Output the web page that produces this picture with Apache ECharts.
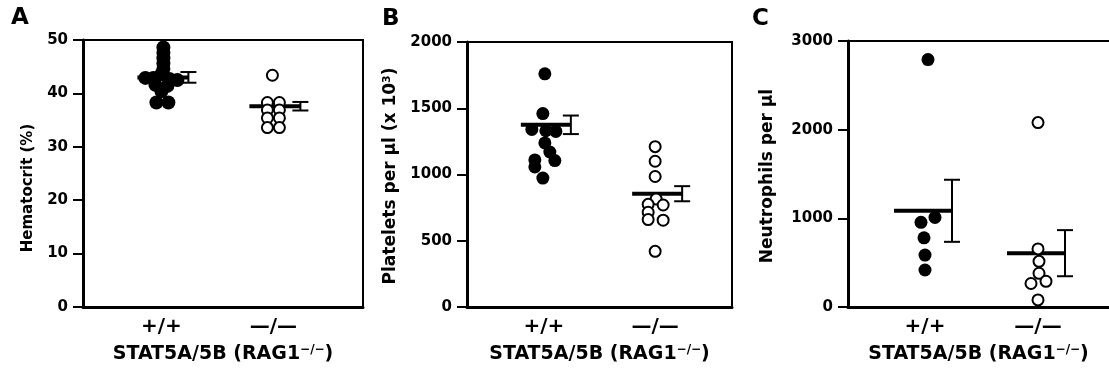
<!DOCTYPE html>
<html>
<head>
<meta charset="utf-8">
<script src="https://cdn.jsdelivr.net/npm/echarts@6/dist/echarts.min.js"></script>
<style>
  html, body { margin: 0; padding: 0; background: #fff; }
  #chart { width: 1109px; height: 374px; }
</style>
</head>
<body>
<div id="chart"></div>
<script>
// Genotype groups on each panel
const groups = ['+/+', '—/—'];

// Panel A: hematocrit (%)
const hematocritWT = [48.6, 47.6, 46.6, 45.6, 44.6, 43.6, 42.9, 42.9, 42.7, 42.5, 41.6, 41.4, 40.4, 38.3, 38.3];
const hematocritKO = [43.4, 38.3, 38.3, 36.9, 36.9, 35.4, 35.4, 33.6, 33.6];
const hematocritMean = [43.0, 37.6];
const hematocritSem = [1.0, 0.8];
const hematocritTicks = [0, 10, 20, 30, 40, 50];

// Panel B: platelets per µl (x 10^3)
const plateletsWT = [1760, 1460, 1340, 1330, 1325, 1238, 1170, 1110, 1105, 1057, 973];
const plateletsKO = [1210, 1100, 985, 815, 775, 770, 715, 660, 655, 420];
const plateletsMean = [1375, 855];
const plateletsSem = [70, 57];
const plateletsTicks = [0, 500, 1000, 1500, 2000];

// Panel C: neutrophils per µl
const neutrophilsWT = [2790, 1010, 955, 780, 586, 417];
const neutrophilsKO = [2080, 655, 515, 380, 290, 265, 80];
const neutrophilsMean = [1085, 607];
const neutrophilsSem = [350, 260];
const neutrophilsTicks = [0, 1000, 2000, 3000];

// Horizontal scatter offsets (px) so overlapping dots stay visible
const spread = {
  hematocritWT: [2, 2, 2, 2, 2, 0, -16, -8, 8, 16, -6, 6, 0, -5, 7],
  hematocritKO: [-1, -6, 6, -6, 6, -6, 6, -6, 6],
  plateletsWT: [1, -1, -12, 2, 12, 1, 6, -9, 11, -9, -1],
  plateletsKO: [0, 0, 0, 1, -7, 8, -7, -7, 8, 0],
  neutrophilsWT: [3, 10, -4, -1, 0, 0],
  neutrophilsKO: [0, 0, 1, 1, 8, -7, 0]
};

const FONT = '"DejaVu Sans", "Liberation Sans", Arial, sans-serif';

// Panel C runs off the right edge of the figure, so it has no right frame
const panels = [
  { grid: { left: 83, top: 40, width: 280, height: 267 }, frame: true, pos: [0.28, 0.68],
    max: 50, step: 10, ticks: hematocritTicks,
    wt: hematocritWT, ko: hematocritKO, wtJ: spread.hematocritWT, koJ: spread.hematocritKO,
    mean: hematocritMean, sem: hematocritSem, lineLeft: 24, dot: 14 },
  { grid: { left: 467, top: 42, width: 265, height: 265 }, frame: true, pos: [0.29, 0.71],
    max: 2000, step: 500, ticks: plateletsTicks,
    wt: plateletsWT, ko: plateletsKO, wtJ: spread.plateletsWT, koJ: spread.plateletsKO,
    mean: plateletsMean, sem: plateletsSem, lineLeft: 23, dot: 13 },
  { grid: { left: 848, top: 41, right: 0, height: 266 }, frame: false, pos: [0.295, 0.728],
    max: 3000, step: 1000, ticks: neutrophilsTicks,
    wt: neutrophilsWT, ko: neutrophilsKO, wtJ: spread.neutrophilsWT, koJ: spread.neutrophilsKO,
    mean: neutrophilsMean, sem: neutrophilsSem, lineLeft: 31, dot: 13 }
];

function summaryRenderer(lineLeft) {
  return function (params, api) {
    const x = api.value(0), m = api.value(1), s = api.value(2);
    const mid = api.coord([x, m]);
    const hi = api.coord([x, m + s]);
    const lo = api.coord([x, m - s]);
    const ex = mid[0] + 27;
    const st = { stroke: '#000', lineWidth: 2 };
    return {
      type: 'group',
      children: [
        { type: 'line', shape: { x1: mid[0] - lineLeft, y1: mid[1], x2: ex, y2: mid[1] }, style: { stroke: '#000', lineWidth: 4 } },
        { type: 'line', shape: { x1: ex, y1: hi[1], x2: ex, y2: lo[1] }, style: st },
        { type: 'line', shape: { x1: ex - 8, y1: hi[1], x2: ex + 8, y2: hi[1] }, style: st },
        { type: 'line', shape: { x1: ex - 8, y1: lo[1], x2: ex + 8, y2: lo[1] }, style: st }
      ]
    };
  };
}

const grid = [], xAxis = [], yAxis = [], series = [];
panels.forEach((p, i) => {
  grid.push(Object.assign({ show: p.frame, borderColor: '#000', borderWidth: 2, backgroundColor: 'transparent' }, p.grid));
  xAxis.push({
    type: 'value', gridIndex: i, min: 0, max: 1,
    axisLine: { show: true, lineStyle: { color: '#000', width: 3 } },
    axisTick: { show: false },
    splitLine: { show: false },
    axisLabel: {
      customValues: p.pos,
      formatter: v => (v < 0.5 ? groups[0] : groups[1]),
      fontFamily: FONT, fontWeight: 'bold', fontSize: 20, color: '#000', margin: 10
    },
    name: 'STAT5A/5B (RAG1{sup|−/−})',
    nameLocation: 'middle', nameGap: 37,
    nameTextStyle: {
      fontFamily: FONT, fontWeight: 'bold', fontSize: 19, color: '#000',
      rich: { sup: { fontFamily: FONT, fontWeight: 'bold', fontSize: 12, color: '#000', padding: [0, 0, 9, 0] } }
    }
  });
  if (!p.frame) {
    // top edge of the open-ended panel
    xAxis.push({
      type: 'value', gridIndex: i, min: 0, max: 1, position: 'top',
      axisLine: { show: true, lineStyle: { color: '#000', width: 2 } },
      axisTick: { show: false }, axisLabel: { show: false }, splitLine: { show: false }
    });
  }
  yAxis.push({
    type: 'value', gridIndex: i, min: 0, max: p.max, interval: p.step,
    axisLine: { show: true, lineStyle: { color: '#000', width: 3 } },
    axisTick: { show: true, length: 10, lineStyle: { color: '#000', width: 2 } },
    splitLine: { show: false },
    axisLabel: {
      customValues: p.ticks,
      formatter: v => String(v),
      fontFamily: FONT, fontWeight: 'bold', fontSize: 15, color: '#000', margin: 15
    }
  });
});

// series reference the bottom x axis of each panel
let xIdx = 0;
panels.forEach((p, i) => {
  const w = p.grid.width || (1109 - p.grid.left - p.grid.right);
  series.push({
    type: 'custom', xAxisIndex: xIdx, yAxisIndex: i, z: 2,
    renderItem: summaryRenderer(p.lineLeft),
    encode: { x: 0, y: 1 },
    data: p.pos.map((g, k) => [g, p.mean[k], p.sem[k]]),
    silent: true
  });
  series.push({
    type: 'scatter', xAxisIndex: xIdx, yAxisIndex: i, z: 3,
    symbolSize: p.dot,
    itemStyle: { color: '#000', opacity: 1 },
    data: p.wt.map((v, k) => [p.pos[0] + p.wtJ[k] / w, v]),
    silent: true
  });
  series.push({
    type: 'scatter', xAxisIndex: xIdx, yAxisIndex: i, z: 4,
    symbolSize: 11,
    itemStyle: { color: '#fff', borderColor: '#000', borderWidth: 2, opacity: 1 },
    data: p.ko.map((v, k) => [p.pos[1] + p.koJ[k] / w, v]),
    silent: true
  });
  xIdx += p.frame ? 1 : 2;
});

const titleStyle = { fontFamily: FONT, fontWeight: 'bold', fill: '#000', textAlign: 'center', textVerticalAlign: 'middle' };
const graphic = [
  { type: 'text', left: 11, top: 7, style: { text: 'A', fontFamily: FONT, fontWeight: 'bold', fontSize: 23, fill: '#000' } },
  { type: 'text', left: 382, top: 8, style: { text: 'B', fontFamily: FONT, fontWeight: 'bold', fontSize: 23, fill: '#000' } },
  { type: 'text', left: 752, top: 8, style: { text: 'C', fontFamily: FONT, fontWeight: 'bold', fontSize: 23, fill: '#000' } },
  { type: 'text', x: 28, y: 188, rotation: Math.PI / 2,
    style: Object.assign({ text: 'Hematocrit (%)', fontSize: 15 }, titleStyle) },
  { type: 'text', x: 391, y: 176, rotation: Math.PI / 2,
    style: Object.assign({ text: 'Platelets per µl (x 10{sup|3})', fontSize: 17,
      rich: { sup: { fontFamily: FONT, fontWeight: 'bold', fontSize: 11, fill: '#000', padding: [0, 0, 8, 0] } } }, titleStyle) },
  { type: 'text', x: 768, y: 176, rotation: Math.PI / 2,
    style: Object.assign({ text: 'Neutrophils per µl', fontSize: 17 }, titleStyle) }
];

const chart = echarts.init(document.getElementById('chart'), null, { renderer: 'canvas' });
chart.setOption({
  animation: false,
  backgroundColor: '#fff',
  grid, xAxis, yAxis, series, graphic
});
</script>
</body>
</html>
